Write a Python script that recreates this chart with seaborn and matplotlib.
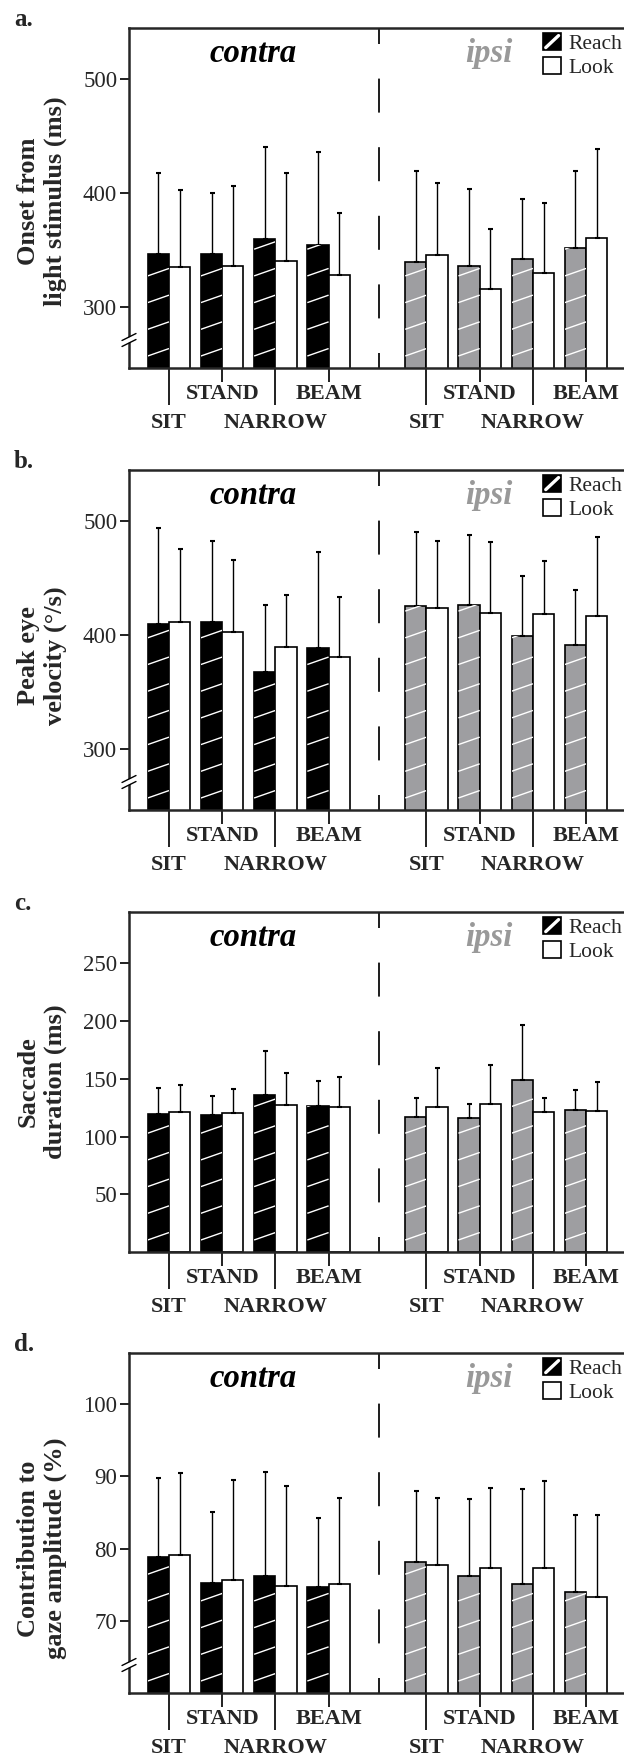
import numpy as np
import pandas as pd
import seaborn as sns
import matplotlib.pyplot as plt
from matplotlib.collections import LineCollection
from matplotlib.patches import Patch, Rectangle
from matplotlib.lines import Line2D
from matplotlib.legend_handler import HandlerBase

conditions = ['SIT', 'STAND', 'NARROW', 'BEAM']
tasks = ['Reach', 'Look']

# a. onset from light stimulus (ms): mean and SD
onset_contra_reach = [346.7, 346.7, 359.6, 354.3]
onset_contra_reach_sd = [70.7, 53.2, 80.5, 81.5]
onset_contra_look = [335.0, 335.6, 340.0, 328.3]
onset_contra_look_sd = [67.8, 71.0, 77.4, 54.0]
onset_ipsi_reach = [339.4, 336.2, 342.6, 351.7]
onset_ipsi_reach_sd = [80.3, 67.7, 52.0, 68.0]
onset_ipsi_look = [345.5, 315.5, 330.0, 360.4]
onset_ipsi_look_sd = [63.7, 52.8, 61.4, 78.0]

# b. peak eye velocity (deg/s)
vel_contra_reach = [409.9, 411.7, 367.5, 389.2]
vel_contra_reach_sd = [84.3, 70.5, 58.8, 83.9]
vel_contra_look = [411.4, 402.9, 390.1, 381.3]
vel_contra_look_sd = [64.3, 62.6, 45.3, 52.3]
vel_ipsi_reach = [425.4, 426.9, 399.7, 391.5]
vel_ipsi_reach_sd = [65.0, 60.5, 51.8, 48.3]
vel_ipsi_look = [424.0, 419.3, 419.0, 416.7]
vel_ipsi_look_sd = [58.7, 62.3, 45.6, 69.3]

# c. saccade duration (ms)
dur_contra_reach = [119.7, 118.5, 136.4, 126.3]
dur_contra_reach_sd = [22.5, 16.2, 37.3, 21.4]
dur_contra_look = [121.4, 120.2, 127.5, 125.7]
dur_contra_look_sd = [23.1, 21.1, 27.7, 26.0]
dur_ipsi_reach = [117.3, 116.5, 149.1, 123.4]
dur_ipsi_reach_sd = [15.9, 12.1, 47.7, 16.5]
dur_ipsi_look = [125.4, 128.6, 121.4, 122.5]
dur_ipsi_look_sd = [34.1, 33.2, 12.4, 24.6]

# d. contribution to gaze amplitude (%)
contr_contra_reach = [78.9, 75.3, 76.3, 74.7]
contr_contra_reach_sd = [10.8, 9.7, 14.3, 9.5]
contr_contra_look = [79.2, 75.7, 74.9, 75.2]
contr_contra_look_sd = [11.2, 13.8, 13.8, 11.8]
contr_ipsi_reach = [78.2, 76.3, 75.2, 74.1]
contr_ipsi_reach_sd = [9.8, 10.5, 13.0, 10.5]
contr_ipsi_look = [77.8, 77.3, 77.4, 73.3]
contr_ipsi_look_sd = [9.2, 11.1, 12.0, 11.4]

ylabels = ['Onset from\nlight stimulus (ms)', 'Peak eye\nvelocity (°/s)',
           'Saccade\nduration (ms)', 'Contribution to\ngaze amplitude (%)']
yticks = [[300, 400, 500], [300, 400, 500], [50, 100, 150, 200, 250], [70, 80, 90, 100]]
ylims = [(246.6, 544.7), (247.0, 544.7), (0, 294.5), (60.1, 107.0)]
letters = ['a.', 'b.', 'c.', 'd.']

panels = [
    (onset_contra_reach, onset_contra_reach_sd, onset_contra_look, onset_contra_look_sd,
     onset_ipsi_reach, onset_ipsi_reach_sd, onset_ipsi_look, onset_ipsi_look_sd),
    (vel_contra_reach, vel_contra_reach_sd, vel_contra_look, vel_contra_look_sd,
     vel_ipsi_reach, vel_ipsi_reach_sd, vel_ipsi_look, vel_ipsi_look_sd),
    (dur_contra_reach, dur_contra_reach_sd, dur_contra_look, dur_contra_look_sd,
     dur_ipsi_reach, dur_ipsi_reach_sd, dur_ipsi_look, dur_ipsi_look_sd),
    (contr_contra_reach, contr_contra_reach_sd, contr_contra_look, contr_contra_look_sd,
     contr_ipsi_reach, contr_ipsi_reach_sd, contr_ipsi_look, contr_ipsi_look_sd),
]

sns.set_style('ticks')
plt.rcParams['font.family'] = ['Liberation Serif', 'DejaVu Serif']
plt.rcParams['axes.linewidth'] = 1.8

GRAY = '#9e9ea1'
W, H = 624, 1759
fig = plt.figure(figsize=(W / 100, H / 100), dpi=100)

# layout in pixels
pitch = 53.2
left_px, right_px = 129, 640
ax_h = 340
tops = [28, 470, 912, 1353]
contra_pos = np.arange(4.0)
ipsi_pos = contra_pos + 4.84
xmin = (left_px - 169) / pitch
xmax = xmin + (right_px - left_px) / pitch
ylab_y = [0.49, 0.455, 0.50, 0.425]


class ReachHandler(HandlerBase):
    def create_artists(self, legend, orig_handle, xdescent, ydescent, width, height, fontsize, trans):
        x0, y0 = -xdescent, -ydescent
        box = Rectangle((x0, y0), width, height, facecolor='black', edgecolor='black',
                        lw=1.2, transform=trans)
        stripe = Line2D([x0 + 0.15 * width, x0 + 0.85 * width], [y0 + 0.15 * height, y0 + 0.85 * height],
                        color='white', lw=2.4, transform=trans)
        return [box, stripe]


def hatch_bar(ax, bar):
    tr = ax.transData
    (x0, y0), (x1, y1) = tr.transform([(bar.get_x(), bar.get_y()),
                                       (bar.get_x() + bar.get_width(), bar.get_y() + bar.get_height())])
    y = max(y0, ax.bbox.y0) + 12
    segs = []
    while y < y1:
        segs.append(tr.inverted().transform([(x0, y), (x1, y + 0.35 * (x1 - x0))]))
        y += 26.7
    lc = LineCollection(segs, colors='white', linewidths=1.0, zorder=bar.get_zorder() + 0.1)
    ax.add_collection(lc, autolim=False)
    lc.set_clip_path(bar)


for i, vals in enumerate(panels):
    top = tops[i]
    ax = fig.add_axes([left_px / W, 1 - (top + ax_h) / H, (right_px - left_px) / W, ax_h / H])
    ax.set_xlim(xmin, xmax)
    ax.set_ylim(*ylims[i])

    sides = [(contra_pos, vals[0], vals[1], vals[2], vals[3], 'black'),
             (ipsi_pos, vals[4], vals[5], vals[6], vals[7], GRAY)]
    for pos, reach, reach_sd, look, look_sd, col in sides:
        df = pd.DataFrame({'pos': np.r_[pos, pos],
                           'task': ['Reach'] * 4 + ['Look'] * 4,
                           'value': list(reach) + list(look)})
        n0 = len(ax.patches)
        sns.barplot(data=df, x='pos', y='value', hue='task', hue_order=tasks,
                    native_scale=True, palette={'Reach': col, 'Look': 'white'},
                    saturation=1, errorbar=None, width=0.8, edgecolor='black',
                    linewidth=1.2, legend=False, ax=ax)
        bars = sorted(ax.patches[n0:], key=lambda p: p.get_x())
        sds = np.ravel(np.column_stack([reach_sd, look_sd]))
        xs = [p.get_x() + p.get_width() / 2 for p in bars]
        hs = [p.get_height() for p in bars]
        ax.errorbar(xs, hs, yerr=[np.zeros(len(sds)), sds], fmt='none', ecolor='black',
                    elinewidth=1.0, capsize=1.8, capthick=1.5, zorder=1)
        ax.set_xlim(xmin, xmax)
        ax.set_ylim(*ylims[i])
        for p in bars[::2]:
            hatch_bar(ax, p)

    ax.set_xlim(xmin, xmax)
    ax.set_ylim(*ylims[i])
    ax.set_xlabel('')
    ax.set_ylabel(ylabels[i], fontsize=19, fontweight='bold', linespacing=1.2)
    ax.yaxis.set_label_coords((67 - left_px) / (right_px - left_px), ylab_y[i])

    ax.set_yticks(yticks[i])
    ax.tick_params(axis='y', length=6.5, width=1.44, pad=2, labelsize=16.5)
    long_pos = [contra_pos[0], contra_pos[2], ipsi_pos[0], ipsi_pos[2]]
    short_pos = [contra_pos[1], contra_pos[3], ipsi_pos[1], ipsi_pos[3]]
    ax.set_xticks(long_pos, [conditions[0], conditions[2]] * 2, fontweight='bold')
    ax.set_xticks(short_pos, [conditions[1], conditions[3]] * 2, minor=True, fontweight='bold')
    ax.tick_params(axis='x', which='major', length=26.6, width=1.44, pad=6.0, labelsize=16)
    ax.tick_params(axis='x', which='minor', length=10, width=1.44, pad=1.5, labelsize=16)
    ax.spines['right'].set_visible(False)

    sep = (379 - 169) / pitch
    ax.axvline(sep, color='#222222', lw=1.44, linestyle=(9.5, (17, 17.3)), zorder=3)

    fx = lambda px: (px - left_px) / (right_px - left_px)
    ax.text(fx(253), 1 - 34 / ax_h, 'contra', transform=ax.transAxes, ha='center',
            va='baseline', fontsize=23.5, fontweight='bold', style='italic', color='black')
    ax.text(fx(489), 1 - 34 / ax_h, 'ipsi', transform=ax.transAxes, ha='center',
            va='baseline', fontsize=23.5, fontweight='bold', style='italic', color='#999999')

    reach_h = Patch(facecolor='black', edgecolor='black')
    look_h = Patch(facecolor='white', edgecolor='black', linewidth=1.2)
    ax.legend([reach_h, look_h], tasks, handler_map={reach_h: ReachHandler()},
              loc='upper left', bbox_to_anchor=(fx(543), 1 - 5 / ax_h), frameon=False,
              borderpad=0, borderaxespad=0, handlelength=0.85, handleheight=0.85,
              handletextpad=0.35, labelspacing=0.15, fontsize=15.5)

    # axis break marks on the y axis
    if i != 2:
        sx = 1 / (right_px - left_px)
        sy = 1 / ax_h
        yc = 28 * sy
        ax.plot([-7 * sx, 7 * sx], [yc - 3.5 * sy, yc + 3.5 * sy], color='white', lw=3.4,
                transform=ax.transAxes, clip_on=False, zorder=6, solid_capstyle='butt')
        for off in (-3, 3):
            ax.plot([-7 * sx, 7 * sx], [yc + (off - 3.5) * sy, yc + (off + 3.5) * sy],
                    color='black', lw=1.0, transform=ax.transAxes, clip_on=False, zorder=7)

    fig.text(14 / W, 1 - (top - 2) / H, letters[i], fontsize=18, fontweight='bold', va='baseline')

fig.savefig('out.png', dpi=100)
